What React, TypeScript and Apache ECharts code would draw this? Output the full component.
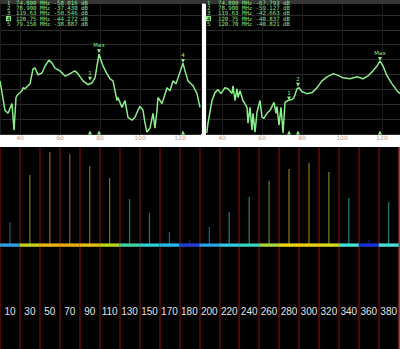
import React, { useEffect, useRef } from "react";
import * as echarts from "echarts";

// ---- Top-left analyser trace (MHz, dB) ----
const leftFreq = [30, 32.5, 34, 36, 37, 38, 38.5, 41, 41.5, 42.5, 44, 45, 46.5, 47.5, 49, 51, 52.5, 54.5, 56, 57.5, 60, 62.5, 64, 66.5, 67.5, 69, 71.5, 74, 76, 77.5, 79.5, 81.5, 83.5, 85, 86.5, 88.5, 89, 91, 92.5, 94, 96, 97.5, 99, 100, 101.5, 102.5, 103.5, 105, 106.5, 107.5, 108.5, 109, 111, 111.5, 113.5, 115, 116.5, 118, 119, 121.5, 122.5, 124, 126.5, 128.5, 130];
const leftDb = [-54.3, -74.1, -76.1, -69.5, -87.4, -65.5, -64.2, -60.9, -58.9, -59.6, -57.6, -56.3, -46.3, -45.7, -50.3, -49.0, -44.3, -40.4, -42.4, -45.7, -47.6, -51.0, -50.3, -48.3, -47.6, -49.6, -54.3, -56.9, -55.6, -52.3, -36.4, -44.3, -49.6, -52.9, -54.3, -67.5, -65.5, -72.1, -67.5, -78.8, -80.7, -78.8, -74.1, -71.5, -74.1, -82.7, -88.7, -86.0, -76.1, -86.0, -74.1, -65.5, -69.5, -67.5, -58.9, -60.9, -54.3, -56.3, -52.3, -42.4, -47.6, -54.3, -57.6, -62.9, -72.1];

// ---- Top-right analyser trace (MHz, dB) ----
const rightFreq = [32.4, 33, 35, 36.5, 38, 39.5, 41.5, 43, 45, 45.5, 46.5, 47.5, 48, 49, 50.5, 52.5, 53, 54, 55, 55.5, 56.5, 57.5, 59, 60, 61, 62.5, 64, 66, 67, 67.5, 68.5, 69.5, 70.5, 71.5, 73, 75, 76, 77.5, 78.5, 80, 82.5, 85, 87.5, 90, 92.5, 95.5, 97.5, 100.5, 104, 107.5, 110.5, 113, 115.5, 117.5, 119, 120.5, 122.5, 125, 127.5, 129];
const rightDb = [-89.3, -82.7, -67.5, -62.2, -60.2, -62.9, -58.9, -59.6, -62.9, -57.6, -67.5, -59.6, -65.5, -60.9, -67.5, -72.1, -82.7, -72.1, -87.4, -76.1, -88.7, -75.4, -67.5, -78.8, -79.4, -76.1, -74.1, -68.8, -76.1, -71.5, -84.0, -72.1, -89.3, -68.8, -67.5, -66.8, -65.5, -59.6, -58.9, -61.6, -62.9, -62.2, -58.9, -54.3, -51.6, -49.6, -50.3, -52.3, -52.9, -51.6, -52.9, -51.0, -47.6, -44.3, -41.0, -44.3, -51.0, -56.3, -60.9, -62.9];

// ---- Marker tables ----
const leftTableNums = ["1", "2", "3", "4", "5"];
const leftTableRows = [
  "74.800 MHz -58.016 dB",
  "78.900 MHz -37.430 dB",
  "119.63 MHz -50.546 dB",
  "120.75 MHz -44.272 dB",
  "79.150 MHz -38.887 dB",
];
const rightTableNums = ["1", "2", "3", "4", "5"];
const rightTableRows = [
  "74.800 MHz -67.793 dB",
  "78.900 MHz -59.127 dB",
  "119.63 MHz -42.663 dB",
  "120.75 MHz -40.837 dB",
  "120.70 MHz -40.821 dB",
];

// ---- Markers on the traces ----
const leftMarkNames = ["Max", "1", "4"];
const leftMarkFreq = [79.5, 75, 121.5];
const leftMarkDb = [-34.4, -52.9, -41.0];
const rightMarkNames = ["Max", "2", "1"];
const rightMarkFreq = [119, 78, 73.5];
const rightMarkDb = [-39.7, -57.0, -66.2];
const floorMarkDb = -89;

// ---- Bottom spectrum ----
const bandLabels = ["10", "30", "50", "70", "90", "110", "130", "150", "170", "180", "200", "220", "240", "260", "280", "300", "320", "340", "360", "380"];
const spikeHeights = [23, 70, 93, 91, 79, 67, 46, 32, 13, 5, 18, 33, 48, 64, 76, 82, 73, 47, 5, 43];

const bandColors = ["#2e9ee0", "#c6cf1e", "#e8b418", "#eaa812", "#e3bc14", "#b9d21c", "#3fd3a0", "#2fd0d8", "#2ab4e4", "#1f3fd8", "#2aa4e6", "#33c9e0", "#38d6bf", "#a6d43a", "#ecd40e", "#eccd12", "#d6d81c", "#42e2d2", "#1432d6", "#46dccf"];

const GREEN = "#8aee8a";
const TXT = "#8ae48a";

function hexA(hex: string, a: number) {
  const r = parseInt(hex.slice(1, 3), 16);
  const g = parseInt(hex.slice(3, 5), 16);
  const b = parseInt(hex.slice(5, 7), 16);
  return `rgba(${r},${g},${b},${a})`;
}

function tableGraphics(nums: string[], rows: string[], nx: number, tx: number) {
  const ys = [2.5, 8, 13.3, 18.6, 24];
  const out: any[] = [];
  nums.forEach((n, i) => {
    const hl = n === "4";
    if (hl) {
      out.push({ type: "rect", z: 10, shape: { x: nx - 1, y: ys[i] - 2.6, width: 5, height: 5.2 }, style: { fill: TXT } });
    }
    out.push({ type: "text", z: 11, x: nx, y: ys[i], style: { text: n, fill: hl ? "#000" : TXT, fontSize: 5.7, fontFamily: "DejaVu Sans Mono", verticalAlign: "middle" } });
    out.push({ type: "text", z: 11, x: tx, y: ys[i], style: { text: rows[i], fill: TXT, fontSize: 5.7, fontFamily: "DejaVu Sans Mono", verticalAlign: "middle" } });
  });
  return out;
}

function topX(gridIndex: number, min: number, max: number) {
  return {
    gridIndex, type: "value", min, max, minInterval: 20, maxInterval: 20, offset: 3.5,
    axisLine: { show: true, lineStyle: { color: "#363636", width: 7 } },
    axisTick: { show: false },
    axisLabel: { color: "#a6a6a6", fontSize: 6, margin: -3, showMinLabel: false, showMaxLabel: false, fontFamily: "DejaVu Sans" },
    splitLine: { show: true, lineStyle: { color: "#1c1c1c", width: 1 } },
  };
}
function topY(gridIndex: number) {
  return {
    gridIndex, type: "value", min: -90, max: 0, minInterval: 10, maxInterval: 10,
    axisLine: { show: false }, axisTick: { show: false }, axisLabel: { show: false },
    splitLine: { show: true, lineStyle: { color: "#2c2c2c", width: 1 } },
  };
}
function markerPoints(names: string[], fr: number[], db: number[]) {
  const data: any[] = names.map((n, i) => ({
    name: n, coord: [fr[i], db[i]], symbol: "triangle", symbolRotate: 180, symbolSize: 4,
    label: { show: true, position: "top", distance: 1, formatter: "{b}", color: GREEN, fontSize: 5.5, fontFamily: "DejaVu Sans" },
  }));
  fr.forEach((f) => {
    data.push({ name: "", coord: [f, floorMarkDb], symbol: "triangle", symbolSize: 4, label: { show: false } });
  });
  return { silent: true, itemStyle: { color: GREEN }, data };
}

export default function App() {
  const ref = useRef<HTMLDivElement>(null);
  useEffect(() => {
    const chart = echarts.init(ref.current!, null, { renderer: "svg" });
    const option: any = {
      animation: false,
      backgroundColor: "#ffffff",
      grid: [
        { left: 0, top: -2, width: 201, height: 136, show: true, backgroundColor: "#000", borderWidth: 0 },
        { left: 206, top: -2, width: 194, height: 136, show: true, backgroundColor: "#000", borderWidth: 0 },
        { left: 0, top: 147, width: 400, height: 202, show: true, backgroundColor: "#000", borderWidth: 0 },
      ],
      xAxis: [
        topX(0, 30, 130.5),
        topX(1, 32, 129),
        {
          gridIndex: 2, type: "category", data: bandLabels,
          axisLine: { show: false }, axisTick: { show: false, interval: 0 },
          axisLabel: { inside: true, interval: 0, margin: 33, color: "#e4e4e4", fontSize: 10, fontFamily: "Liberation Sans" },
          splitLine: { show: true, interval: 0, lineStyle: { color: "#5e0c0c", width: 1.5 } },
        },
        { gridIndex: 2, type: "category", data: bandLabels, show: false },
      ],
      yAxis: [
        topY(0),
        topY(1),
        { gridIndex: 2, type: "value", min: -104, max: 98, show: false, splitLine: { show: false } },
      ],
      graphic: [
        ...tableGraphics(leftTableNums, leftTableRows, 7, 16),
        ...tableGraphics(rightTableNums, rightTableRows, 207, 218),
      ],
      series: [
        {
          type: "line", xAxisIndex: 0, yAxisIndex: 0, showSymbol: false, silent: true,
          data: leftFreq.map((f, i) => [f, leftDb[i]]),
          lineStyle: { color: GREEN, width: 1.5 },
          markPoint: markerPoints(leftMarkNames, leftMarkFreq, leftMarkDb),
        },
        {
          type: "line", xAxisIndex: 1, yAxisIndex: 1, showSymbol: false, silent: true,
          data: rightFreq.map((f, i) => [f, rightDb[i]]),
          lineStyle: { color: GREEN, width: 1.5 },
          markPoint: markerPoints(rightMarkNames, rightMarkFreq, rightMarkDb),
        },
        {
          type: "bar", xAxisIndex: 2, yAxisIndex: 2, barWidth: "100%", barGap: "-100%", silent: true,
          data: bandLabels.map(() => 1.6),
          itemStyle: { color: (p: any) => bandColors[p.dataIndex] },
        },
        {
          type: "bar", xAxisIndex: 2, yAxisIndex: 2, barWidth: "100%", barGap: "-100%", silent: true,
          data: bandLabels.map(() => -1.8),
          itemStyle: { color: (p: any) => bandColors[p.dataIndex] },
        },
        {
          type: "bar", xAxisIndex: 3, yAxisIndex: 2, barWidth: 1.3, silent: true,
          data: spikeHeights,
          itemStyle: { color: (p: any) => hexA(bandColors[p.dataIndex], 0.55) },
        },
      ],
    };
    chart.setOption(option);
    return () => chart.dispose();
  }, []);
  return <div ref={ref} style={{ position: "absolute", left: 0, top: 0, width: 400, height: 349 }} />;
}
